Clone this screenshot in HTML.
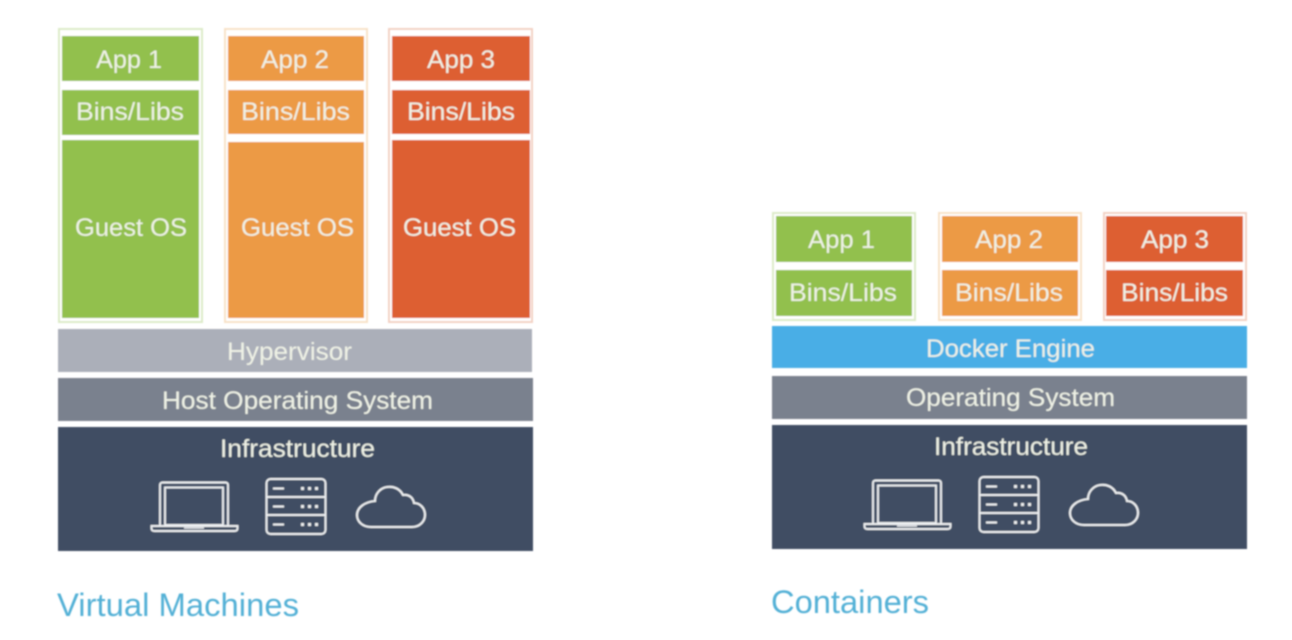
<!DOCTYPE html>
<html><head><meta charset="utf-8"><style>
html,body{margin:0;padding:0;background:#fff;width:1292px;height:640px;overflow:hidden}
svg{display:block}
text{font-family:"Liberation Sans",sans-serif;font-size:25px;fill:#eff2e6}
.t{font-size:32px;fill:#52b0d6}
</style></head><body>
<svg width="1292" height="640" viewBox="0 0 1292 640" xmlns="http://www.w3.org/2000/svg">
<defs>
<filter id="b" x="-5%" y="-5%" width="110%" height="110%"><feGaussianBlur stdDeviation="0.7"/></filter>
<g id="icons" fill="none" stroke="#eef0f2" stroke-width="1.900">
  <path d="M160 525V485a2.500 2.500 0 0 1 2-2.500H226a2.500 2.500 0 0 1 2 2.500V525"/>
  <rect x="165" y="487.500" width="58" height="37.500"/>
  <path d="M151.500 526H237.500V528.500Q237.500 531 234.500 531H154.500Q151.500 531 151.500 528.500Z"/>
  <path d="M184 528H204" stroke-width="1.400"/>
  <rect x="266.500" y="479" width="59" height="55" rx="4"/>
  <path d="M266.500 497H325.500M266.500 515H325.500"/>
  <path d="M273 488.500H284M273 506.500H284M273 524.500H284" stroke-width="2.100"/>
  <path d="M301 488.500H304M308 488.500H311M315 488.500H318M301 506.500H304M308 506.500H311M315 506.500H318M301 524.500H304M308 524.500H311M315 524.500H318" stroke-width="3"/>
  <path d="M371 527H412C420 527 425 521 425 515C425 508 420 503 414 503C413 497 408 494 403 495C400 489 394 486 387 487C380 488 375 494 375 501C364 502 357 508 357 515C357 522 363 527 371 527Z" stroke-width="2.100"/>
</g>
</defs>
<g filter="url(#b)">
<!-- Left outer frames -->
<rect x="59" y="29" width="143" height="293" fill="#fff" stroke="#dcebc8" stroke-width="2"/>
<rect x="225" y="29" width="142" height="293" fill="#fff" stroke="#f8e2c8" stroke-width="2"/>
<rect x="389" y="29" width="143" height="293" fill="#fff" stroke="#f3d2c4" stroke-width="2"/>
<!-- Left col 1 -->
<rect x="62" y="36" width="137" height="45" fill="#92c04e"/>
<rect x="62" y="90" width="137" height="45" fill="#92c04e"/>
<rect x="62" y="140" width="137" height="178" fill="#92c04e"/>
<!-- Left col 2 -->
<rect x="228" y="36" width="136" height="45" fill="#ec9a45"/>
<rect x="228" y="90" width="136" height="44" fill="#ec9a45"/>
<rect x="228" y="142" width="136" height="176" fill="#ec9a45"/>
<!-- Left col 3 -->
<rect x="392" y="36" width="138" height="45" fill="#dd5f30"/>
<rect x="392" y="90" width="138" height="44" fill="#dd5f30"/>
<rect x="392" y="140" width="138" height="178" fill="#dd5f30"/>
<!-- Left layers -->
<rect x="58" y="329" width="474" height="43" fill="#abafb9"/>
<rect x="58" y="378" width="475" height="43" fill="#7a818e"/>
<rect x="58" y="427" width="475" height="124" fill="#414e63"/>
<!-- Right frames -->
<rect x="773" y="213" width="142" height="107" fill="#fff" stroke="#dcebc8" stroke-width="2"/>
<rect x="939" y="213" width="142" height="107" fill="#fff" stroke="#f8e2c8" stroke-width="2"/>
<rect x="1104" y="213" width="142" height="107" fill="#fff" stroke="#f3d2c4" stroke-width="2"/>
<rect x="776" y="216" width="136" height="46" fill="#92c04e"/>
<rect x="776" y="270" width="136" height="46" fill="#92c04e"/>
<rect x="942" y="216" width="136" height="46" fill="#ec9a45"/>
<rect x="942" y="270" width="136" height="46" fill="#ec9a45"/>
<rect x="1106" y="216" width="137" height="46" fill="#dd5f30"/>
<rect x="1106" y="270" width="137" height="46" fill="#dd5f30"/>
<!-- Right layers -->
<rect x="772" y="326" width="475" height="42" fill="#4aaee6"/>
<rect x="772" y="376" width="475" height="43" fill="#7a818e"/>
<rect x="772" y="425" width="475" height="124" fill="#414e63"/>
<use href="#icons"/>
<use href="#icons" transform="translate(713 -2)"/>
<!-- Left labels -->
<text x="96" y="68" textLength="66" lengthAdjust="spacingAndGlyphs">App 1</text>
<text x="76" y="120" textLength="108" lengthAdjust="spacingAndGlyphs">Bins/Libs</text>
<text x="75" y="236" textLength="112" lengthAdjust="spacingAndGlyphs">Guest OS</text>
<text x="261" y="68" textLength="68" lengthAdjust="spacingAndGlyphs">App 2</text>
<text x="241" y="120" textLength="109" lengthAdjust="spacingAndGlyphs">Bins/Libs</text>
<text x="241" y="236" textLength="113" lengthAdjust="spacingAndGlyphs">Guest OS</text>
<text x="427" y="68" textLength="68" lengthAdjust="spacingAndGlyphs">App 3</text>
<text x="407" y="120" textLength="108" lengthAdjust="spacingAndGlyphs">Bins/Libs</text>
<text x="403" y="236" textLength="113" lengthAdjust="spacingAndGlyphs">Guest OS</text>
<text x="227" y="360" textLength="125" lengthAdjust="spacingAndGlyphs">Hypervisor</text>
<text x="162" y="409" textLength="271" lengthAdjust="spacingAndGlyphs">Host Operating System</text>
<text x="220" y="457" textLength="155" lengthAdjust="spacingAndGlyphs">Infrastructure</text>
<text class="t" x="57" y="616" textLength="242" lengthAdjust="spacingAndGlyphs">Virtual Machines</text>
<!-- Right labels -->
<text x="808" y="248" textLength="67" lengthAdjust="spacingAndGlyphs">App 1</text>
<text x="789" y="301" textLength="108" lengthAdjust="spacingAndGlyphs">Bins/Libs</text>
<text x="975" y="248" textLength="68" lengthAdjust="spacingAndGlyphs">App 2</text>
<text x="955" y="301" textLength="108" lengthAdjust="spacingAndGlyphs">Bins/Libs</text>
<text x="1141" y="248" textLength="68" lengthAdjust="spacingAndGlyphs">App 3</text>
<text x="1121" y="301" textLength="107" lengthAdjust="spacingAndGlyphs">Bins/Libs</text>
<text x="926" y="357" textLength="169" lengthAdjust="spacingAndGlyphs">Docker Engine</text>
<text x="906" y="406" textLength="209" lengthAdjust="spacingAndGlyphs">Operating System</text>
<text x="934" y="455" textLength="154" lengthAdjust="spacingAndGlyphs">Infrastructure</text>
<text class="t" x="771" y="613" textLength="158" lengthAdjust="spacingAndGlyphs">Containers</text>
</g>
</svg>
</body></html>
